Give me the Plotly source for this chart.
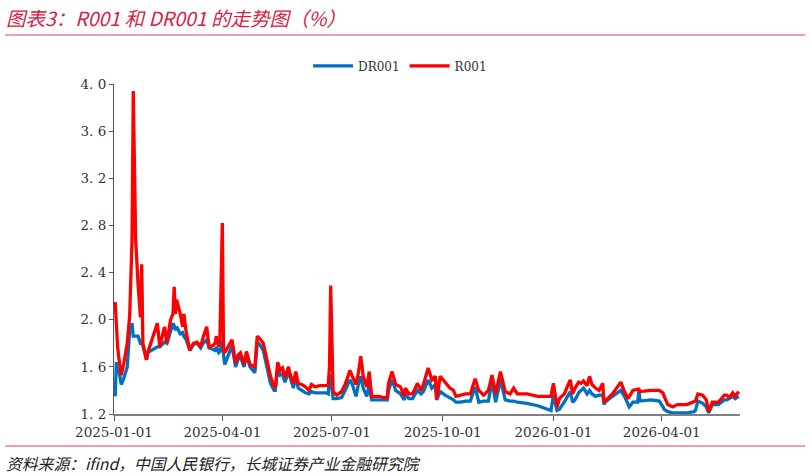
import plotly.graph_objects as go

dates = [
    "2025-01-02", "2025-01-03", "2025-01-04", "2025-01-05", "2025-01-07", "2025-01-09", "2025-01-12",
    "2025-01-14", "2025-01-16", "2025-01-17", "2025-01-19", "2025-01-21", "2025-01-23", "2025-01-24",
    "2025-01-25", "2025-01-28", "2025-01-29", "2025-02-06", "2025-02-08", "2025-02-11", "2025-02-12",
    "2025-02-14", "2025-02-17", "2025-02-19", "2025-02-20", "2025-02-21", "2025-02-22", "2025-02-25",
    "2025-02-27", "2025-02-28", "2025-03-02", "2025-03-05", "2025-03-08", "2025-03-11", "2025-03-14",
    "2025-03-16", "2025-03-19", "2025-03-21", "2025-03-24", "2025-03-26", "2025-03-27", "2025-03-29",
    "2025-03-30", "2025-04-01", "2025-04-02", "2025-04-03", "2025-04-06", "2025-04-09", "2025-04-12",
    "2025-04-14", "2025-04-16", "2025-04-19", "2025-04-21", "2025-04-24", "2025-04-28", "2025-04-30",
    "2025-05-02", "2025-05-05", "2025-05-08", "2025-05-11", "2025-05-14", "2025-05-15", "2025-05-17",
    "2025-05-19", "2025-05-21", "2025-05-23", "2025-05-26", "2025-05-27", "2025-05-30", "2025-06-01",
    "2025-06-03", "2025-06-06", "2025-06-09", "2025-06-12", "2025-06-14", "2025-06-17", "2025-06-21",
    "2025-06-26", "2025-06-28", "2025-06-29", "2025-06-30", "2025-07-02", "2025-07-05", "2025-07-09",
    "2025-07-12", "2025-07-16", "2025-07-18", "2025-07-21", "2025-07-23", "2025-07-25", "2025-07-27",
    "2025-07-30", "2025-08-01", "2025-08-03", "2025-08-09", "2025-08-13", "2025-08-16", "2025-08-17",
    "2025-08-20", "2025-08-23", "2025-08-27", "2025-08-30", "2025-08-31", "2025-09-03", "2025-09-06",
    "2025-09-10", "2025-09-13", "2025-09-15", "2025-09-19", "2025-09-22", "2025-09-25", "2025-09-26",
    "2025-09-29", "2025-10-03", "2025-10-07", "2025-10-10", "2025-10-12", "2025-10-16", "2025-10-20",
    "2025-10-24", "2025-10-28", "2025-10-31", "2025-11-04", "2025-11-08", "2025-11-11", "2025-11-14",
    "2025-11-18", "2025-11-22", "2025-11-26", "2025-11-29", "2025-12-02", "2025-12-10", "2025-12-19",
    "2025-12-25", "2025-12-30", "2026-01-01", "2026-01-04", "2026-01-06", "2026-01-10", "2026-01-15",
    "2026-01-17", "2026-01-19", "2026-01-22", "2026-01-24", "2026-01-26", "2026-01-29", "2026-01-31",
    "2026-02-02", "2026-02-05", "2026-02-08", "2026-02-11", "2026-02-12", "2026-02-13", "2026-02-19",
    "2026-02-26", "2026-03-01", "2026-03-04", "2026-03-05", "2026-03-08", "2026-03-12", "2026-03-13",
    "2026-03-14", "2026-03-23", "2026-03-30", "2026-04-02", "2026-04-03", "2026-04-06", "2026-04-10",
    "2026-04-14", "2026-04-22", "2026-04-28", "2026-04-29", "2026-05-01", "2026-05-05", "2026-05-08",
    "2026-05-10", "2026-05-13", "2026-05-18", "2026-05-23", "2026-05-25", "2026-05-27", "2026-05-30",
    "2026-06-01", "2026-06-04",
]

r001 = [
    2.15, 1.90, 1.77, 1.68, 1.53, 1.62, 1.80,
    2.03, 2.68, 3.94, 2.68, 2.30, 2.02, 2.47,
    1.80, 1.66, 1.72, 1.97, 1.77, 1.90, 1.94,
    1.80, 2.00, 2.05, 2.28, 2.05, 2.17, 2.05,
    1.94, 2.05, 1.89, 1.74, 1.80, 1.81, 1.77,
    1.85, 1.94, 1.77, 1.78, 1.80, 1.86, 1.77,
    1.85, 2.82, 1.74, 1.72, 1.78, 1.83, 1.63,
    1.70, 1.72, 1.62, 1.73, 1.62, 1.60, 1.86,
    1.84, 1.80, 1.66, 1.52, 1.43, 1.42, 1.64,
    1.57, 1.59, 1.51, 1.60, 1.55, 1.46, 1.56,
    1.46, 1.45, 1.43, 1.40, 1.45, 1.43, 1.44,
    1.44, 1.45, 1.60, 2.29, 1.39, 1.36, 1.39,
    1.45, 1.57, 1.52, 1.45, 1.55, 1.69, 1.52,
    1.43, 1.56, 1.35, 1.35, 1.34, 1.34, 1.46,
    1.56, 1.45, 1.43, 1.35, 1.42, 1.37, 1.37,
    1.46, 1.40, 1.45, 1.59, 1.49, 1.52, 1.32,
    1.52, 1.47, 1.42, 1.40, 1.35, 1.36, 1.37,
    1.37, 1.50, 1.40, 1.36, 1.40, 1.53, 1.37,
    1.56, 1.39, 1.37, 1.42, 1.37, 1.37, 1.35,
    1.35, 1.35, 1.46, 1.26, 1.33, 1.37, 1.49,
    1.37, 1.42, 1.47, 1.46, 1.48, 1.44, 1.52,
    1.45, 1.42, 1.40, 1.46, 1.30, 1.31, 1.37,
    1.47, 1.39, 1.33, 1.35, 1.40, 1.41, 1.41,
    1.39, 1.40, 1.40, 1.38, 1.35, 1.28, 1.26,
    1.28, 1.28, 1.30, 1.31, 1.37, 1.36, 1.32,
    1.22, 1.30, 1.30, 1.36, 1.36, 1.34, 1.38,
    1.35, 1.39,
]

dr001 = [
    1.35, 1.64, 1.55, 1.58, 1.45, 1.50, 1.60,
    1.90, 1.97, 1.86, 1.86, 1.86, 1.80, 1.80,
    1.78, 1.66, 1.72, 1.77, 1.77, 1.80, 1.81,
    1.80, 1.90, 1.97, 1.95, 1.91, 1.94, 1.88,
    1.89, 1.86, 1.83, 1.74, 1.79, 1.80, 1.76,
    1.80, 1.83, 1.76, 1.75, 1.74, 1.77, 1.72,
    1.73, 1.83, 1.70, 1.62, 1.70, 1.78, 1.60,
    1.66, 1.69, 1.60, 1.70, 1.60, 1.55, 1.81,
    1.79, 1.74, 1.60, 1.46, 1.40, 1.40, 1.59,
    1.53, 1.54, 1.47, 1.56, 1.52, 1.42, 1.52,
    1.42, 1.40, 1.38, 1.37, 1.39, 1.38, 1.38,
    1.38, 1.37, 1.52, 1.52, 1.33, 1.33, 1.34,
    1.40, 1.49, 1.45, 1.35, 1.45, 1.52, 1.42,
    1.35, 1.45, 1.32, 1.32, 1.32, 1.32, 1.40,
    1.49, 1.40, 1.37, 1.32, 1.37, 1.33, 1.33,
    1.40, 1.37, 1.39, 1.49, 1.42, 1.45, 1.32,
    1.39, 1.36, 1.34, 1.32, 1.30, 1.30, 1.31,
    1.31, 1.43, 1.30, 1.31, 1.31, 1.48, 1.30,
    1.49, 1.32, 1.31, 1.31, 1.30, 1.29, 1.27,
    1.25, 1.23, 1.36, 1.23, 1.24, 1.30, 1.39,
    1.30, 1.32, 1.38, 1.40, 1.42, 1.37, 1.40,
    1.37, 1.35, 1.36, 1.36, 1.28, 1.30, 1.35,
    1.40, 1.35, 1.28, 1.26, 1.30, 1.30, 1.40,
    1.31, 1.32, 1.31, 1.26, 1.24, 1.22, 1.21,
    1.21, 1.21, 1.22, 1.23, 1.31, 1.29, 1.26,
    1.21, 1.28, 1.28, 1.32, 1.32, 1.33, 1.35,
    1.33, 1.35,
]

y_ticks = [1.2, 1.6, 2.0, 2.4, 2.8, 3.2, 3.6, 4.0]
y_tick_text = ["1. 2", "1. 6", "2. 0", "2. 4", "2. 8", "3. 2", "3. 6", "4. 0"]

title_text = "图表3：R001 和 DR001 的走势图（%）"
source_text = "资料来源：ifind，中国人民银行，长城证券产业金融研究院"

tick_font = dict(family="DejaVu Serif", size=13.5, color="#333333")

fig = go.Figure()
fig.add_trace(go.Scatter(x=dates, y=dr001, mode="lines", name="DR001",
                         line=dict(color="#0070C0", width=3.3)))
fig.add_trace(go.Scatter(x=dates, y=r001, mode="lines", name="R001",
                         line=dict(color="#FF0000", width=3.3)))

fig.update_layout(
    width=810, height=476,
    margin=dict(l=114, r=70, t=84, b=62),
    paper_bgcolor="white", plot_bgcolor="white",
    showlegend=True,
    legend=dict(orientation="h", x=0.31, xanchor="left", y=1.055, yanchor="middle",
                font=dict(family="DejaVu Serif", size=12, color="#333333"),
                bgcolor="rgba(0,0,0,0)", itemwidth=40, tracegroupgap=0),
    xaxis=dict(
        type="date", range=["2025-01-01", "2026-06-05"],
        tick0="2025-01-01", dtick="M3", tickformat="%Y-%m-%d",
        showgrid=False, zeroline=False,
        showline=True, linecolor="#808080", linewidth=2,
        ticks="outside", ticklen=5, tickcolor="#555555", tickwidth=1,
        tickfont=tick_font,
    ),
    yaxis=dict(
        range=[1.2, 4.0], tickvals=y_ticks, ticktext=y_tick_text,
        showgrid=False, zeroline=False,
        showline=True, linecolor="#555555", linewidth=1,
        ticks="outside", ticklen=4, tickcolor="#555555",
        tickfont=tick_font,
    ),
    shapes=[
        dict(type="line", xref="paper", yref="paper", x0=-0.174, x1=1.104, y0=1.1485, y1=1.1485,
             line=dict(color="#EE7A8C", width=1.5)),
        dict(type="line", xref="paper", yref="paper", x0=-0.174, x1=1.104, y0=-0.097, y1=-0.097,
             line=dict(color="#EE7A8C", width=1.5)),
    ],
    annotations=[
        dict(text="<i>" + title_text + "</i>", xref="paper", yref="paper", x=-0.176, y=1.203,
             xanchor="left", yanchor="middle", showarrow=False,
             font=dict(family="Noto Sans CJK SC", size=19.5, color="#D9213F")),
        dict(text="<i>" + source_text + "</i>", xref="paper", yref="paper", x=-0.176, y=-0.1485,
             xanchor="left", yanchor="middle", showarrow=False,
             font=dict(family="Noto Sans CJK SC", size=15.8, color="#222222")),
    ],
)

fig.write_html("out.html", config={"displayModeBar": False},
               post_script="document.body.style.margin='0px';")
